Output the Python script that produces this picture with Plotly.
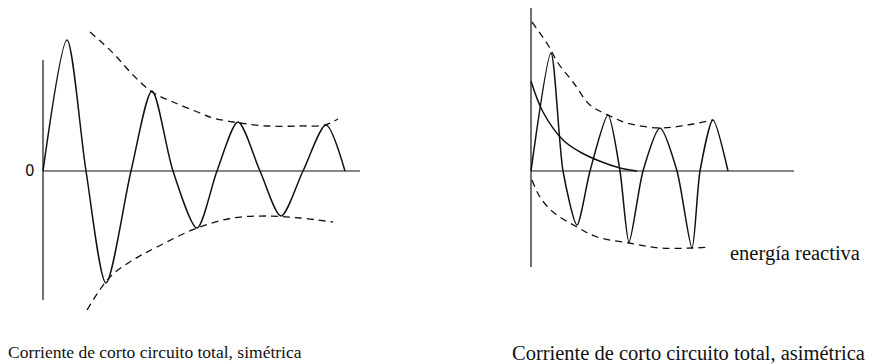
import plotly.graph_objects as go

# ---------- Data (time units, current units; origin at each panel's axes crossing) ----------
# Left panel: symmetric short-circuit current
sym_t = [0, 24, 43, 63, 88, 109, 130, 154, 174, 195, 217, 238, 260, 283, 302]
sym_i = [0, 131, 0, -112, 0, 80, 0, -57, 0, 49, 0, -45, 0, 46, 0]
sym_up_t = [47, 70, 90, 109, 130, 157, 170, 197, 224, 257, 282, 295]
sym_up_i = [139, 118, 96, 79, 69, 58, 53, 48, 45, 45, 46, 52]
sym_lo_t = [44, 67, 90, 114, 154, 190, 224, 257, 290]
sym_lo_i = [-139, -106, -89, -76, -57, -47, -45, -47, -51]
sym_axis_t = [0, 317]
sym_axis_i = [111, -129]

# Right panel: asymmetric short-circuit current
asy_t = [0, 20, 32, 46, 59, 77, 89, 98, 112, 129, 146, 161, 169, 182, 197]
asy_i = [0, 118, 0, -54, 0, 56, 0, -71, 0, 43, 0, -77, 0, 51, 0]
dc_t = [0, 12, 32, 49, 66, 89, 106]
dc_i = [90, 59, 31, 19, 11, 3, 0]
asy_up_t = [1, 17, 27, 42, 59, 77, 96, 129, 156, 182]
asy_up_i = [149, 126, 108, 89, 66, 56, 48, 43, 46, 51]
asy_lo_t = [1, 9, 22, 46, 66, 98, 129, 161, 179]
asy_lo_i = [-9, -26, -41, -56, -66, -72, -77, -77, -76]
asy_axis_t = [0, 263]
asy_axis_i = [163, -96]

zero_label = "0"
label_reactive = "energía reactiva"
caption_left = "Corriente de corto circuito total, simétrica"
caption_right = "Corriente de corto circuito total, asimétrica"

# ---------- Figure ----------
BLACK = "#111111"
SERIF = "Liberation Serif, Times New Roman, serif"
solid = dict(color=BLACK, width=1.5)
dashed = dict(color=BLACK, width=1.3, dash="7px,5px")

fig = go.Figure()

def add(x, y, line, xa, ya, shape="linear", smooth=None):
    ln = dict(line)
    ln["shape"] = shape
    if smooth is not None:
        ln["smoothing"] = smooth
    fig.add_trace(go.Scatter(x=x, y=y, mode="lines", line=ln, xaxis=xa, yaxis=ya,
                             hoverinfo="skip", showlegend=False, cliponaxis=False))

# left panel
add(sym_axis_t, [0, 0], dict(color=BLACK, width=1.2), "x", "y")
add([0, 0], sym_axis_i, dict(color=BLACK, width=1.2), "x", "y")
add(sym_t, sym_i, solid, "x", "y", "spline", 0.8)
add(sym_up_t, sym_up_i, dashed, "x", "y", "spline", 1.0)
add(sym_lo_t, sym_lo_i, dashed, "x", "y", "spline", 1.0)

# right panel
add(asy_axis_t, [0, 0], dict(color=BLACK, width=1.2), "x2", "y2")
add([0, 0], asy_axis_i, dict(color=BLACK, width=1.2), "x2", "y2")
add(asy_t, asy_i, solid, "x2", "y2", "spline", 0.7)
add(dc_t, dc_i, solid, "x2", "y2", "spline", 1.0)
add(asy_up_t, asy_up_i, dashed, "x2", "y2", "spline", 1.0)
add(asy_lo_t, asy_lo_i, dashed, "x2", "y2", "spline", 1.0)

ax_common = dict(visible=False, showgrid=False, zeroline=False, fixedrange=True)
fig.update_layout(
    width=868, height=356,
    margin=dict(l=0, r=0, t=0, b=0),
    paper_bgcolor="white", plot_bgcolor="white",
    xaxis=dict(domain=[0, 0.5], range=[-35, 399], **ax_common),
    yaxis=dict(domain=[0, 1], range=[-193, 163], **ax_common),
    xaxis2=dict(domain=[0.5, 1], range=[-89, 345], anchor="y2", **ax_common),
    yaxis2=dict(domain=[0, 1], range=[-193, 163], anchor="x2", **ax_common),
    annotations=[
        dict(x=-13, y=0, xref="x", yref="y", text=zero_label, showarrow=False,
             font=dict(family="DejaVu Sans, Arial, sans-serif", size=15, color=BLACK)),
        dict(x=197, y=-82, xref="x2", yref="y2", text=label_reactive, showarrow=False,
             xanchor="left", font=dict(family=SERIF, size=20.5, color=BLACK)),
        dict(x=112, y=-181, xref="x", yref="y", text=caption_left, showarrow=False,
             font=dict(family=SERIF, size=17.5, color=BLACK)),
        dict(x=157, y=-182, xref="x2", yref="y2", text=caption_right, showarrow=False,
             font=dict(family=SERIF, size=20.5, color=BLACK)),
    ],
)

fig.write_html("out.html")
